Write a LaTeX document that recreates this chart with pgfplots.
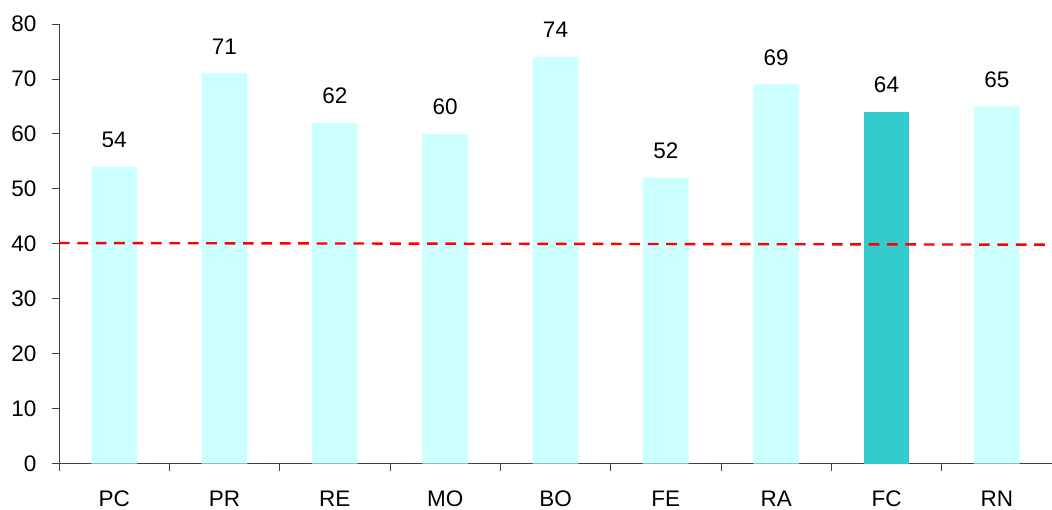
\documentclass[border=0pt]{standalone}
\usepackage{fontspec}
\setmainfont{Liberation Sans}
\usepackage{pgfplots}
\pgfplotsset{compat=1.18}
\definecolor{lightbar}{HTML}{CCFFFF}
\definecolor{darkbar}{HTML}{33CCCC}
\newcommand{\lab}{\fontsize{22.5}{26}\selectfont}
\begin{document}
\begin{tikzpicture}
\begin{axis}[
  scale only axis, width=993pt, height=439.7pt,
  xmin=-0.5, xmax=8.5, ymin=0, ymax=80,
  axis lines=left, axis line style={-, black!75, line width=0.9pt},
  xtick={0,...,8}, xticklabels={PC,PR,RE,MO,BO,FE,RA,FC,RN},
  minor xtick={-0.5,0.5,...,8.5},
  ytick={0,10,...,80},
  tick align=outside, major tick length=7pt, minor tick length=7pt,
  tick style={black!75, line width=0.9pt},
  major x tick style={draw=none},
  /pgf/number format/assume math mode=true,
  xticklabel style={font=\lab, anchor=base, yshift=-35.3pt, inner sep=0pt},
  yticklabel style={font=\lab, anchor=east, inner sep=0pt, xshift=-15.3pt},
  clip=false,
]
\addplot[ybar, bar width=45.7pt, bar shift=0pt, fill=lightbar, draw=none,
  nodes near coords,
  every node near coord/.append style={font=\lab, anchor=base, yshift=19.4pt, inner sep=0pt}]
  coordinates {(0,54) (1,71) (2,62) (3,60) (4,74) (5,52) (6,69) (8,65)};
\addplot[ybar, bar width=45.7pt, bar shift=0pt, fill=darkbar, draw=none,
  nodes near coords,
  every node near coord/.append style={font=\lab, anchor=base, yshift=19.4pt, inner sep=0pt}]
  coordinates {(7,64)};
\addplot[red, line width=2.4pt, dash pattern=on 10.7pt off 7.7pt, mark=none]
  coordinates {(-0.5,40.15) (8.5,39.85)};
\coordinate (O) at (rel axis cs:0,0);
\coordinate (T) at (rel axis cs:1,1);
\end{axis}
\pgfresetboundingbox
\path ([shift={(-59pt,-45.3pt)}]O) rectangle ([shift={(0pt,24pt)}]T);
\end{tikzpicture}
\end{document}
